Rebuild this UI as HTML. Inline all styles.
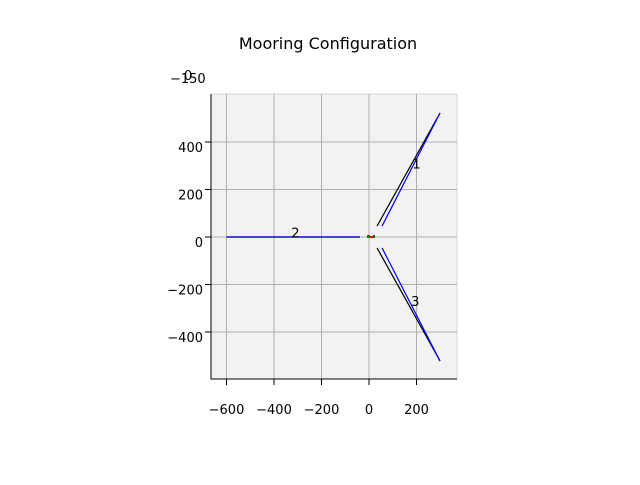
<!DOCTYPE html>
<html><head><meta charset="utf-8"><style>
body{margin:0;background:#fff;}
svg text{font-family:"DejaVu Sans","Liberation Sans",sans-serif;font-size:13px;fill:#000;}
</style></head><body>
<svg width="640" height="480">
<text x="328" y="49" text-anchor="middle" font-size="16" style="font-size:16px">Mooring Configuration</text>
<rect x="211" y="94" width="246" height="285" fill="#f2f2f2" stroke="#d8d8d8"/>
<g id="grid"></g>
<g id="lines"></g>
<g id="axes"></g>
<text x="170" y="83">−150</text>
<text x="184" y="80">0</text>
</svg>
<script>
const xTicks=[-600,-400,-200,0,200];
const yTicks=[-400,-200,0,200,400];
const blackLines=[[[34,46],[299,522]],[[-38,0],[-600,0]],[[34,-46],[299,-522]]];
const blueLines=[[[55,46],[299,522]],[[-38,0],[-600,0]],[[55,-46],[299,-522]]];
const labels=[["1",200,310],["2",-310,20],["3",195,-270]];
const NS="http://www.w3.org/2000/svg";
const sx=v=>369+v*0.2375, sy=v=>237-v*0.2375;
function mk(tag,attrs,parent,name){const e=document.createElementNS(NS,tag);for(const k in attrs)e.setAttribute(k,attrs[k]);


document.getElementById(parent).appendChild(e);return e;}
xTicks.forEach(t=>{mk('line',{x1:sx(t),x2:sx(t),y1:94,y2:379,stroke:'#b0b0b0'},'grid','x-grid-line');
mk('line',{x1:sx(t),x2:sx(t),y1:379,y2:385,stroke:'#000'},'axes','x-tick');
const tx=mk('text',{x:sx(t),y:414,'text-anchor':'middle'},'axes','x-tick-label');tx.textContent=t<0?'−'+(-t):t;});
yTicks.forEach(t=>{mk('line',{x1:211,x2:457,y1:sy(t),y2:sy(t),stroke:'#b0b0b0'},'grid','y-grid-line');
mk('line',{x1:205,x2:211,y1:sy(t),y2:sy(t),stroke:'#000'},'axes','y-tick');
const tx=mk('text',{x:203,y:sy(t)+10,'text-anchor':'end'},'axes','y-tick-label');tx.textContent=t<0?'−'+(-t):t;});
mk('line',{x1:211,x2:211,y1:94,y2:379,stroke:'#000'},'axes','y-axis-line');
mk('line',{x1:211,x2:457,y1:379,y2:379,stroke:'#000'},'axes','x-axis-line');
blackLines.forEach(l=>mk('line',{x1:sx(l[0][0]),y1:sy(l[0][1]),x2:sx(l[1][0]),y2:sy(l[1][1]),stroke:'#000','stroke-width':1.2},'lines','line-black'));
blueLines.forEach(l=>mk('line',{x1:sx(l[0][0]),y1:sy(l[0][1]),x2:sx(l[1][0]),y2:sy(l[1][1]),stroke:'#0000ff','stroke-width':1.2},'lines','line-blue'));
labels.forEach(l=>{const t=mk('text',{x:sx(l[1]),y:sy(l[2])+5,'text-anchor':'middle'},'lines','line-label');t.textContent=l[0];});
mk('rect',{x:367,y:235,width:3,height:3,fill:'green'},'lines','anchor-point');
mk('rect',{x:370,y:236,width:3,height:2,fill:'red'},'lines','fairlead-point');
mk('rect',{x:373,y:235,width:2,height:3,fill:'green'},'lines','anchor-point');
</script>
</body></html>
